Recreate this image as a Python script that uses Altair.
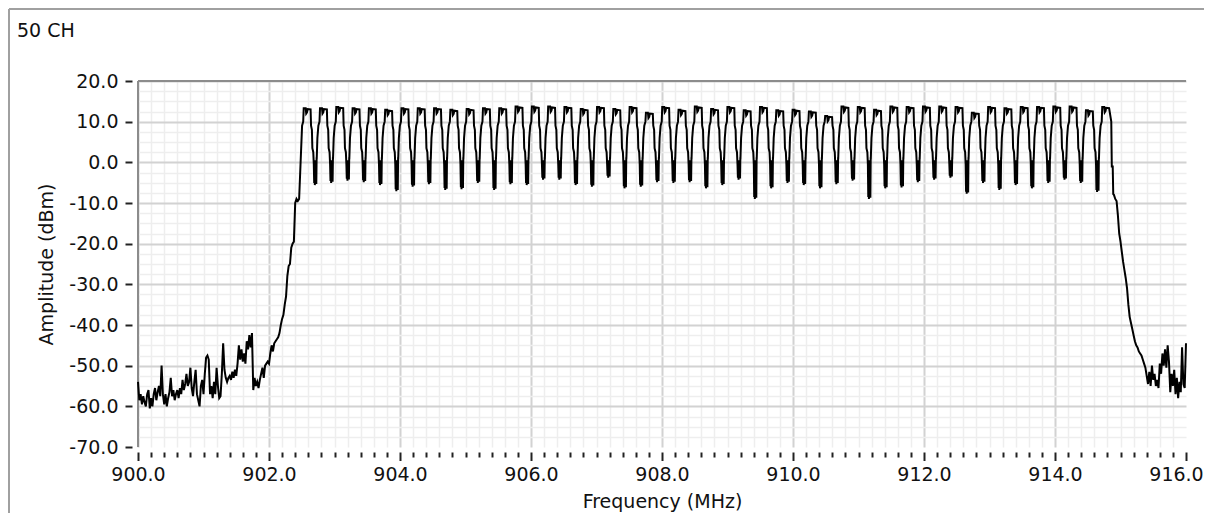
import numpy as np
import pandas as pd
import altair as alt

FONT = "DejaVu Sans"
TITLE = "50 CH"
X_TITLE = "Frequency (MHz)"
Y_TITLE = "Amplitude (dBm)"

# ---- noise floor and rising edge, 900.00 .. 902.46 MHz in 0.02 MHz steps
left_start = 900.0
left_step = 0.02
left_amp = [
    -54, -58.5, -57, -59.5, -57.5, -59, -60, -57, -56, -60.5,
    -58, -60, -57, -55.5, -58.5, -56.5, -55, -57.5, -50, -57,
    -59.5, -57, -60, -58, -56.5, -53, -57.5, -56, -58.5, -57,
    -56, -58, -55.5, -57, -53.5, -56, -54.5, -52, -55, -54,
    -50.5, -55.5, -57.5, -54, -51, -57, -58.5, -60, -55, -53.5,
    -57, -52, -48, -47.5, -48.5, -57, -55, -58, -54, -57,
    -50.5, -55, -58, -57.5, -52, -44.5, -51, -53, -54, -53,
    -52.5, -53.5, -51.5, -53, -51, -52.5, -49.5, -45, -48.5, -46,
    -49, -47, -49.5, -44, -46, -42.5, -45.5, -42, -56, -53,
    -55, -54, -55.5, -53.5, -52, -50.5, -53, -50, -49.5, -49,
    -49.5, -47, -45, -46.5, -44.5, -44, -43.5, -43, -42, -40,
    -38.5, -37.5, -35, -33, -28, -25.5, -25, -21, -20, -19.5,
    -10, -9, -9.5, -9,
]

# ---- 50 hopping channels
ch_first_centre = 902.59
ch_spacing = 0.2488
ch_top = [
    13.3, 13.3, 13.6, 13.3, 13.3, 12.9, 13.3, 13.3, 13.3, 12.9, 13.1, 13.3, 13.3,
    13.7, 13.7, 13.7, 13.6, 13.1, 13.6, 13.1, 13.6, 12.2, 13.6, 12.9, 13.7, 13.1,
    13.6, 12.8, 13.6, 12.8, 12.9, 12.5, 11.4, 13.7, 13.6, 12.9, 13.7, 13.6, 13.7,
    13.7, 13.6, 12.2, 13.6, 13.3, 13.6, 13.6, 13.7, 13.7, 12.8, 13.6,
]
ch_dip = [
    -5.6, -5.1, -4.5, -4.9, -5.6, -7.1, -6.0, -5.4, -6.8, -6.6, -5.1, -6.8, -5.4,
    -5.6, -4.3, -4.3, -5.6, -6.0, -3.8, -6.4, -6.0, -4.9, -5.1, -4.9, -6.4, -5.6,
    -4.3, -9.0, -6.4, -5.1, -5.6, -6.4, -5.4, -4.5, -9.0, -6.4, -6.2, -4.9, -4.3,
    -3.8, -7.7, -5.1, -6.8, -5.6, -6.4, -5.1, -4.3, -5.1, -7.3,
]
# shape of one channel hump (offset from channel centre in MHz)
shape_offset = [-0.110, -0.100, -0.085, -0.068, -0.060,
                -0.030, -0.022, -0.010, 0.000, 0.045,
                0.052, 0.065, 0.072, 0.086, 0.094,
                0.100, 0.106, 0.110, 0.116, 0.121, 0.127, 0.132, 0.137]
shape_ref = ["abs", "abs", "abs", "abs", "top",
             "top", "top", "top", "top", "top",
             "abs", "abs", "abs", "abs", "abs",
             "dip", "abs", "dip", "abs", "dip", "abs", "dip", "abs"]
shape_level = [1.0, 6.0, 9.0, 10.0, 0.0,
               0.0, -1.3, -1.0, -0.2, -0.3,
               9.0, 8.0, 3.5, 2.5, -0.5,
               0.5, 0.5, 0.0, -0.5, 0.8, 0.0, 0.3, 1.0]
last_tail_offset = [0.078, 0.086, 0.100, 0.108]
last_tail_level = [10.0, -1.0, -1.0, -7.8]

# ---- falling edge and noise, 914.90 .. 916.00 MHz in 0.02 MHz steps
right_start = 914.90
right_step = 0.02
right_amp = [
    -8, -9, -9.5, -13, -17.5, -19.5, -22, -24.5, -26.5, -28.5,
    -31, -35, -38, -39.5, -41, -42.5, -44, -45, -45.5, -46.5,
    -47, -47.5, -48.5, -49.5, -50.5, -52.5, -54.5, -51.5, -55, -50,
    -53.5, -52, -55, -53.5, -55.5, -49.5, -52, -47, -50, -46,
    -50.5, -45, -49, -56.5, -52, -55, -51, -57, -53, -58,
    -54, -56.5, -45.5, -54.5, -55.5, -44.5,
]

# ---- assemble the trace
freq, amp = [], []
for i, a in enumerate(left_amp):
    freq.append(left_start + i * left_step)
    amp.append(a)
n_ch = len(ch_top)
for k in range(n_ch):
    c = ch_first_centre + k * ch_spacing
    last = k == n_ch - 1
    for off, ref, lev in zip(shape_offset, shape_ref, shape_level):
        if last and off > 0.05:
            break
        if k == 0 and off < -0.09:
            continue
        if ref == "top":
            v = ch_top[k] + lev
        elif ref == "dip":
            v = ch_dip[k] + lev
        else:
            v = lev
        freq.append(c + off)
        amp.append(v)
    if last:
        for off, lev in zip(last_tail_offset, last_tail_level):
            freq.append(c + off)
            amp.append(lev)
for i, a in enumerate(right_amp):
    freq.append(right_start + i * right_step)
    amp.append(a)

df = pd.DataFrame({"f": freq, "a": amp, "i": range(len(freq))})

W, H = 1048, 366
x_vals = [round(900 + 0.2 * i, 1) for i in range(81)]
y_vals = [-70 + 2.5 * i for i in range(37)]
MAJ_X = "abs(datum.value - 2*round(datum.value/2)) < 0.01"
MAJ_Y = "datum.value % 10 === 0"

x_axis = alt.Axis(
    values=x_vals, title=X_TITLE, orient="bottom", offset=5, domain=False,
    labelExpr=f"({MAJ_X}) ? datum.value + '.0' : ''",
    labelFlush=False, labelOverlap=False, labelFont=FONT, labelFontSize=19,
    labelColor="#111", labelPadding=5,
    labelOffset={"condition": {"test": "datum.value > 915.9", "value": -10}, "value": 0},
    tickSize=8.5, tickWidth=2, tickColor="#222",
    tickDash={"condition": {"test": MAJ_X, "value": [20, 1]}, "value": [5, 20]},
    grid=True,
    gridColor={"condition": {"test": MAJ_X, "value": "#d2d2d2"}, "value": "#eeeeee"},
    gridWidth={"condition": {"test": MAJ_X, "value": 2}, "value": 1.5},
    gridOpacity={"condition": {"test": "datum.value > 915.99", "value": 0}, "value": 1},
    titleFont=FONT, titleFontSize=19, titleFontWeight="normal", titleColor="#111",
    titlePadding=8,
)
y_axis = alt.Axis(
    values=y_vals, title=Y_TITLE, orient="left", offset=6, domain=False,
    labelExpr=f"({MAJ_Y}) ? datum.value + '.0' : ''",
    labelFlush=False, labelOverlap=False, labelFont=FONT, labelFontSize=19,
    labelColor="#111", labelPadding=7,
    tickSize=7, tickWidth=2, tickColor="#222",
    tickOpacity={"condition": {"test": MAJ_Y, "value": 1}, "value": 0},
    grid=True,
    gridColor={"condition": {"test": MAJ_Y, "value": "#d2d2d2"}, "value": "#eeeeee"},
    gridWidth={"condition": {"test": MAJ_Y, "value": 2}, "value": 1.5},
    gridOpacity={"condition": {"test": "datum.value < -69.99", "value": 0}, "value": 1},
    titleFont=FONT, titleFontSize=19, titleFontWeight="normal", titleColor="#111",
    titlePadding=12,
)

trace = alt.Chart(df).mark_line(
    color="black", strokeWidth=2, interpolate="linear"
).encode(
    x=alt.X("f:Q", scale=alt.Scale(domain=[900, 916], nice=False, zero=False), axis=x_axis),
    y=alt.Y("a:Q", scale=alt.Scale(domain=[-70, 20], nice=False, zero=False), axis=y_axis),
    order="i:Q",
)

one = pd.DataFrame({"k": [0]})
border_top = alt.Chart(one).mark_rule(color="#8c8c8c", strokeWidth=2).encode(
    x=alt.value(0), x2=alt.value(W), y=alt.value(0))
border_left = alt.Chart(one).mark_rule(color="#8c8c8c", strokeWidth=2).encode(
    x=alt.value(0), y=alt.value(0), y2=alt.value(H))
frame_top = alt.Chart(one).mark_rule(color="#a0a0a0", strokeWidth=2).encode(
    x=alt.value(-129), x2=alt.value(W + 18), y=alt.value(-72))
frame_left = alt.Chart(one).mark_rule(color="#a0a0a0", strokeWidth=2).encode(
    x=alt.value(-129), y=alt.value(-72), y2=alt.value(H + 66))
title = alt.Chart(pd.DataFrame({"t": [TITLE]})).mark_text(
    align="left", baseline="alphabetic", font=FONT, fontSize=19, color="#111"
).encode(x=alt.value(-121), y=alt.value(-44), text="t:N")

chart = alt.layer(
    frame_top, frame_left, title, border_top, border_left, trace
).properties(
    width=W, height=H,
    autosize=alt.AutoSizeParams(type="none"),
    padding={"left": 130, "top": 73, "right": 18, "bottom": 66},
    background="white",
).configure_view(stroke=None)

chart.save("out.html", embed_options={"renderer": "svg", "actions": False})
